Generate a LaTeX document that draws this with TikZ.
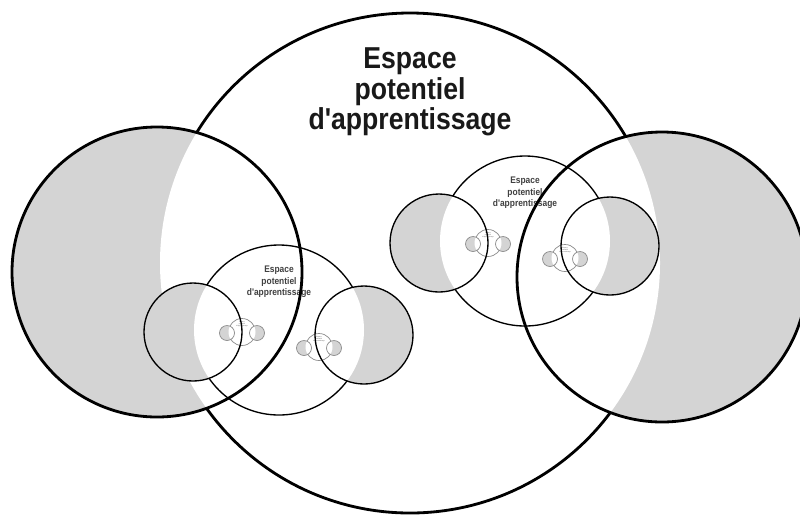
\documentclass[tikz,border=0pt]{standalone}
\usepackage{fontspec}
\newfontfamily\espfont[FakeStretch=0.88]{Liberation Sans}
\usepackage{xcolor}
\usetikzlibrary{positioning}
\definecolor{shade}{gray}{0.83}
\tikzset{
  ring1/.style ={draw=black,line width=2pt},
  ring2/.style ={draw=black,line width=0.95pt},
  ring3/.style ={draw=black!45,line width=0.5pt},
  lobe/.style  ={fill=shade},
  title1/.style={font=\espfont\bfseries\fontsize{21.5}{21.5}\selectfont,align=center,text=black!90},
  title2/.style={font=\espfont\bfseries\fontsize{6.8}{8.2}\selectfont,align=center,text=black!75},
  title3/.style={font=\espfont\bfseries\fontsize{1.2}{1.4}\selectfont,align=center,text=black!50,inner sep=0pt},
}
\begin{document}
\begin{tikzpicture}[x=0.025cm,y=-0.025cm]
  \useasboundingbox (0,0) rectangle (800,515); \clip (0,0) rectangle (800,515);
  \fill[white] (0,0) rectangle (800,515);
  \draw[ring1] (410,263) circle[radius=250];
  \fill[lobe] (157,272) circle[radius=145] (662,277) circle[radius=145];
  \begin{scope}\clip (410,263) circle[radius=250]; \fill[white] (157,272) circle[radius=145] (662,277) circle[radius=145];\end{scope}
  \node[title1] (maintitle) at (410,92) {Espace\\potentiel\\d'apprentissage};
  \foreach \cx/\cy/\n in {279/330/left,525/241/right}{
    \begin{scope}[shift={(\cx,\cy)}]
      \draw[ring2] (0,0) circle[radius=85];
      \fill[lobe] (-86,2) circle[radius=49] (85,5) circle[radius=49];
      \begin{scope}\clip (0,0) circle[radius=85]; \fill[white] (-86,2) circle[radius=49] (85,5) circle[radius=49];\end{scope}
      \foreach \tx/\ty/\k in {-37/2/a,40/17/b}{
        \begin{scope}[shift={(\tx,\ty)}]
          \draw[ring3] (0,0) circle[radius=13.5];
          \fill[lobe] (-15,1) circle[radius=7.5] (15,1) circle[radius=7.5];
          \begin{scope}\clip (0,0) circle[radius=13.5]; \fill[white] (-15,1) circle[radius=7.5] (15,1) circle[radius=7.5];\end{scope}
          \draw[ring3] (-15,1) circle[radius=7.5] (15,1) circle[radius=7.5];
          \node[title3] (\n-\k) at (0,-8) {Espace\\potentiel\\d'apprentissage};
        \end{scope}}
      \draw[ring2] (-86,2) circle[radius=49] (85,5) circle[radius=49];
      \node[title2] (\n-title) at (0,-48) {Espace\\potentiel\\d'apprentissage};
    \end{scope}}
  \draw[ring1] (157,272) circle[radius=145] (662,277) circle[radius=145];
\end{tikzpicture}
\end{document}
